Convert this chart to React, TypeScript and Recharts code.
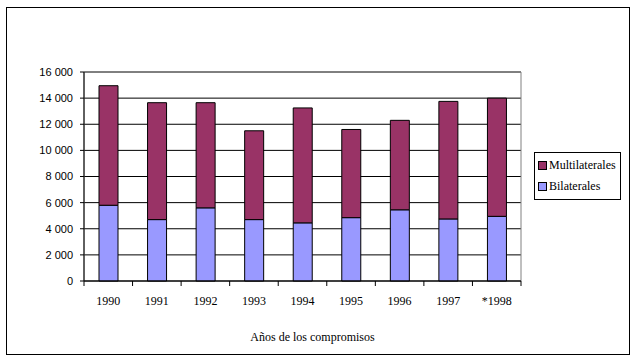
import { Bar, BarChart, CartesianGrid, ReferenceArea, XAxis, YAxis } from 'recharts';

const years = ['1990', '1991', '1992', '1993', '1994', '1995', '1996', '1997', '*1998'];
const bilaterales = [5800, 4700, 5600, 4700, 4450, 4850, 5450, 4750, 4950];
const multilaterales = [9150, 8950, 8050, 6800, 8800, 6750, 6850, 9000, 9050];
const yTicks = [0, 2000, 4000, 6000, 8000, 10000, 12000, 14000, 16000];

const data = years.map((year, i) => ({
  year,
  bilaterales: bilaterales[i],
  multilaterales: multilaterales[i],
}));

const MULTI = '#993366';
const BILAT = '#9999ff';
const serif = '"Liberation Serif", "Times New Roman", serif';
const sans = '"Liberation Sans", Arial, sans-serif';

const fmt = (v: number) =>
  v >= 1000 ? `${Math.floor(v / 1000)} ${String(v % 1000).padStart(3, '0')}` : `${v}`;

function YearTick(props: any) {
  const { x, y, payload, index } = props;
  const half = payload?.offset || 24.25;
  const last = index === years.length - 1;
  return (
    <g>
      <line x1={x - half} y1={y} x2={x - half} y2={y + 5} stroke="#000" />
      {last && <line x1={x + half} y1={y} x2={x + half} y2={y + 5} stroke="#000" />}
      <text x={x} y={y + 24} textAnchor="middle" fontFamily={serif} fontSize={12} fill="#000">
        {payload.value}
      </text>
    </g>
  );
}

function LegendBox() {
  const items = [
    { name: 'Multilaterales', color: MULTI },
    { name: 'Bilaterales', color: BILAT },
  ];
  return (
    <div
      style={{
        position: 'absolute',
        left: 534,
        top: 152,
        border: '1px solid #000',
        width: 87,
        height: 48,
        boxSizing: 'border-box',
        padding: '2px 0 0 3px',
        background: '#fff',
      }}
    >
      {items.map((it) => (
        <div
          key={it.name}
          style={{ display: 'flex', alignItems: 'center', height: 21, fontFamily: serif, fontSize: 12, color: '#000' }}
        >
          <span
            style={{
              display: 'inline-block',
              width: 7,
              height: 7,
              background: it.color,
              border: '1px solid #000',
              marginRight: 2,
            }}
          />
          {it.name}
        </div>
      ))}
    </div>
  );
}

export default function App() {
  return (
    <div style={{ position: 'absolute', left: 0, top: 0, width: 636, height: 360, background: '#fff' }}>
      <div
        style={{
          position: 'absolute',
          left: 6,
          top: 7,
          width: 624,
          height: 348,
          border: '1px solid #000',
          boxSizing: 'border-box',
        }}
      />
      <BarChart
        width={636}
        height={360}
        data={data}
        margin={{ top: 72, right: 115, bottom: 0, left: 0 }}
        barSize={19}
      >
        <CartesianGrid vertical={false} stroke="#000" fill="none" />
        <ReferenceArea y1={0} y2={16000} stroke="#808080" fill="none" fillOpacity={0} />
        <XAxis
          dataKey="year"
          height={79}
          tickSize={0}
          tickMargin={0}
          tickLine={false}
          axisLine={{ stroke: '#000' }}
          tick={<YearTick />}
          interval={0}
          label={{
            value: 'Años de los compromisos',
            position: 'insideBottom',
            offset: 19,
            dx: 10,
            style: { fontFamily: serif, fontSize: 12, fill: '#000' },
          }}
        />
        <YAxis
          width={84}
          domain={[0, 16000]}
          ticks={yTicks}
          interval={0}
          tickFormatter={fmt}
          tickSize={4}
          tickMargin={7}
          axisLine={{ stroke: '#000' }}
          tickLine={{ stroke: '#000' }}
          tick={{ fontFamily: sans, fontSize: 11, fill: '#000' }}
        />
        <Bar dataKey="bilaterales" stackId="a" fill={BILAT} stroke="#000" isAnimationActive={false} />
        <Bar dataKey="multilaterales" stackId="a" fill={MULTI} stroke="#000" isAnimationActive={false} />
      </BarChart>
      <LegendBox />
    </div>
  );
}
